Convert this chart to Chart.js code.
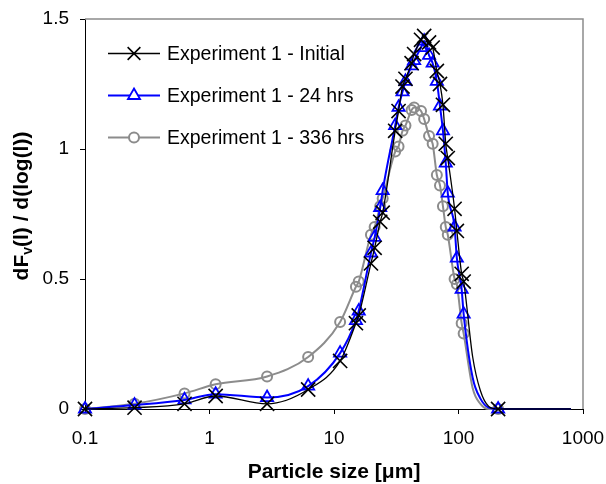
<!DOCTYPE html>
<html>
<head>
  <meta charset="UTF-8">
  <title>Particle size distribution</title>
  <script src="https://cdn.jsdelivr.net/npm/chart.js"></script>
  <style>
    body { margin: 0; background: #fff; }
    canvas { display: block; }
  </style>
</head>
<body>
  <canvas id="psd" width="606" height="484"></canvas>

  <script>
    // particle size [um] and dFv(l)/d(log(l))
    const sizes   = [0.1, 0.25, 0.63, 1.12, 2.9, 6.2, 11.2, 15.0, 15.8, 19.8, 21.2, 23.5, 24.6, 31, 33, 35.5, 37.5, 42, 44, 50, 53, 58, 62, 67, 71, 75, 79, 82, 93, 97, 106, 110, 130, 150, 175, 208, 800];
    const initial = [0, 0.005, 0.02, 0.05, 0.02, 0.075, 0.185, 0.33, 0.36, 0.56, 0.62, 0.72, 0.755, 1.07, 1.146, 1.24, 1.27, 1.33, 1.365, 1.42, 1.435, 1.41, 1.39, 1.3, 1.25, 1.17, 1.02, 0.965, 0.77, 0.685, 0.52, 0.49, 0.2, 0.07, 0.01, 0, 0];
    const hrs24   = [0, 0.015, 0.035, 0.057, 0.044, 0.088, 0.215, 0.34, 0.377, 0.6, 0.66, 0.775, 0.84, 1.09, 1.16, 1.22, 1.26, 1.32, 1.34, 1.39, 1.415, 1.36, 1.33, 1.26, 1.165, 1.07, 0.946, 0.83, 0.7, 0.58, 0.46, 0.365, 0.12, 0.04, 0.005, 0, 0];
    const hrs336  = [0, 0.02, 0.06, 0.095, 0.125, 0.2, 0.335, 0.47, 0.49, 0.67, 0.7, 0.78, 0.81, 0.99, 1.01, 1.07, 1.09, 1.15, 1.16, 1.146, 1.115, 1.05, 1.02, 0.9, 0.86, 0.78, 0.7, 0.67, 0.5, 0.48, 0.33, 0.29, 0.08, 0.02, 0, 0, 0];
    const seriesNames = ['Experiment 1 - Initial', 'Experiment 1 - 24 hrs', 'Experiment 1 - 336 hrs'];
    const xTicks = [0.1, 1, 10, 100, 1000];
    const yTicks = [0, 0.5, 1, 1.5];
    // sizes drawn on the curve without a marker
    const noMarker = [130, 150, 175, 800];

    const FONT = '"Liberation Sans", Arial, sans-serif';

    function toPoints(vals) {
      return sizes.map((s, i) => ({ x: s, y: vals[i] }));
    }

    function makeSet(label, vals, color, style, radius, lineW, markW) {
      return {
        label,
        data: toPoints(vals),
        showLine: true,
        borderColor: color,
        backgroundColor: 'rgba(255,255,255,0)',
        borderWidth: lineW,
        pointStyle: style,
        pointBorderColor: color,
        pointBorderWidth: markW,
        pointBackgroundColor: 'rgba(255,255,255,0)',
        pointRadius: ctx => noMarker.includes(sizes[ctx.dataIndex]) ? 0 : radius,
        cubicInterpolationMode: 'monotone',
        clip: false
      };
    }

    // legend marker drawing
    function marker(ctx, style, x, y, r) {
      ctx.beginPath();
      if (style === 'crossRot') {
        const d = r * 0.707;
        ctx.moveTo(x - d, y - d); ctx.lineTo(x + d, y + d);
        ctx.moveTo(x - d, y + d); ctx.lineTo(x + d, y - d);
        ctx.stroke();
        return;
      }
      if (style === 'triangle') {
        ctx.moveTo(x, y - r);
        ctx.lineTo(x + r * 0.866, y + r * 0.5);
        ctx.lineTo(x - r * 0.866, y + r * 0.5);
        ctx.closePath();
      } else {
        ctx.arc(x, y, r, 0, Math.PI * 2);
      }
      ctx.fillStyle = '#fff';
      ctx.fill();
      ctx.stroke();
    }

    const extras = {
      id: 'extras',
      afterDraw(chart) {
        const ctx = chart.ctx;
        const a = chart.chartArea;
        ctx.save();

        // grey frame on top and right
        ctx.strokeStyle = '#8c8c8c';
        ctx.lineWidth = 1.5;
        ctx.beginPath();
        ctx.moveTo(a.left, a.top);
        ctx.lineTo(a.right, a.top);
        ctx.lineTo(a.right, a.bottom);
        ctx.stroke();

        // legend inside plot
        chart.data.datasets.forEach((ds, i) => {
          const y = 53.5 + 42 * i;
          ctx.strokeStyle = ds.borderColor;
          ctx.lineWidth = ds.borderWidth;
          ctx.beginPath();
          ctx.moveTo(108, y);
          ctx.lineTo(160, y);
          ctx.stroke();
          ctx.lineWidth = ds.pointBorderWidth;
          marker(ctx, ds.pointStyle, 134, y, ds.legendR);
          ctx.fillStyle = '#000';
          ctx.font = '19.5px ' + FONT;
          ctx.textBaseline = 'middle';
          ctx.textAlign = 'left';
          ctx.fillText(ds.label, 167, y + 1);
        });

        // x title
        ctx.fillStyle = '#000';
        ctx.font = 'bold 21px ' + FONT;
        ctx.textBaseline = 'alphabetic';
        ctx.textAlign = 'left';
        const xt = 'Particle size [';
        const wa = ctx.measureText(xt).width;
        const wb = ctx.measureText('μ').width;
        const wc = ctx.measureText('m]').width;
        const sx = (a.left + a.right) / 2 - (wa + wb + wc) / 2;
        ctx.fillText(xt, sx, 478);
        ctx.fillText('μ', sx + wa, 478);
        ctx.fillText('m]', sx + wa + wb, 478);

        // y title with subscript v
        ctx.translate(28, 206);
        ctx.rotate(-Math.PI / 2);
        const big = 'bold 21px ' + FONT, small = 'bold 14px ' + FONT;
        ctx.font = big;
        const w1 = ctx.measureText('dF').width;
        const w3 = ctx.measureText('(l) / d(log(l))').width;
        ctx.font = small;
        const w2 = ctx.measureText('v').width;
        const px = -(w1 + w2 + w3) / 2;
        ctx.font = big;
        ctx.fillText('dF', px, 0);
        ctx.font = small;
        ctx.fillText('v', px + w1, 4);
        ctx.font = big;
        ctx.fillText('(l) / d(log(l))', px + w1 + w2, 0);

        ctx.restore();
      }
    };

    const black = makeSet(seriesNames[0], initial, '#000000', 'crossRot', 10, 1.3, 1.6);
    black.legendR = 9;
    const blue = makeSet(seriesNames[1], hrs24, '#0000ff', 'triangle', 7, 2, 1.8);
    blue.legendR = 7;
    const grey = makeSet(seriesNames[2], hrs336, '#8c8c8c', 'circle', 5, 2, 2);
    grey.legendR = 5;

    new Chart(document.getElementById('psd'), {
      type: 'scatter',
      data: { datasets: [black, blue, grey] },
      options: {
        responsive: false,
        devicePixelRatio: 1,
        animation: false,
        layout: { padding: { top: 19, right: 23, left: 0, bottom: 0 } },
        plugins: {
          legend: { display: false },
          tooltip: { enabled: false }
        },
        scales: {
          x: {
            type: 'logarithmic',
            min: 0.1,
            max: 1000,
            afterBuildTicks: s => { s.ticks = xTicks.map(v => ({ value: v })); },
            afterFit: s => { s.height = 75; s.paddingLeft = 0; s.paddingRight = 0; },
            grid: { drawOnChartArea: false, drawTicks: true, tickLength: 5, color: '#000' },
            border: { display: true, color: '#000', width: 1 },
            ticks: {
              color: '#000',
              font: { family: FONT, size: 19 },
              padding: 13,
              maxRotation: 0,
              callback: v => String(v)
            }
          },
          y: {
            min: 0,
            max: 1.5,
            afterBuildTicks: s => { s.ticks = yTicks.map(v => ({ value: v })); },
            afterFit: s => { s.width = 85; s.paddingTop = 0; s.paddingBottom = 0; },
            grid: { drawOnChartArea: false, drawTicks: true, tickLength: 5, color: '#000' },
            border: { display: true, color: '#000', width: 1 },
            ticks: {
              color: '#000',
              font: { family: FONT, size: 19 },
              padding: 11,
              callback: v => String(v)
            }
          }
        }
      },
      plugins: [extras]
    });
  </script>
</body>
</html>
